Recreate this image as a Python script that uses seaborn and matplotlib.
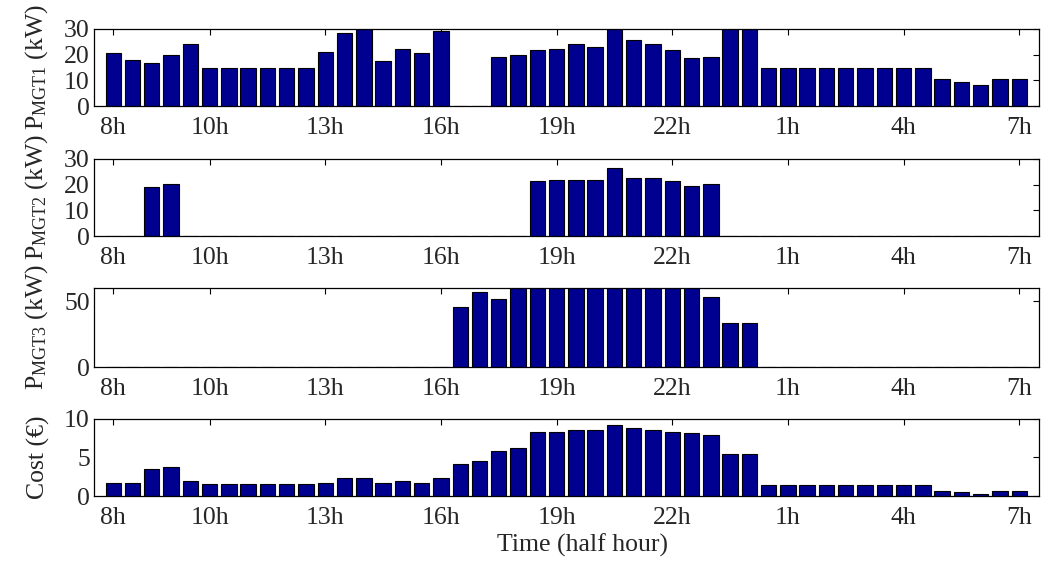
import numpy as np
import pandas as pd
import matplotlib
matplotlib.use("Agg")
import matplotlib.pyplot as plt
import seaborn as sns

# half-hour slots 1..48, starting at 8h
slots = np.arange(1, 49)

p_mgt1 = [20.5, 17.9, 16.7, 19.7, 24.3, 15, 15, 15, 15, 15, 15, 21.0,
          28.6, 30, 17.4, 22.3, 20.5, 29.2, 0, 0, 19.2, 19.8, 21.8, 22.3,
          24.3, 23.0, 30, 25.6, 24.3, 21.8, 18.6, 19.2, 30, 30, 15, 15,
          15, 15, 15, 15, 15, 15, 15, 10.4, 9.3, 8.0, 10.4, 10.4]

p_mgt2 = [0, 0, 18.9, 20.2, 0, 0, 0, 0, 0, 0, 0, 0,
          0, 0, 0, 0, 0, 0, 0, 0, 0, 0, 21.4, 22.0,
          22.0, 22.0, 26.4, 22.7, 22.7, 21.4, 19.5, 20.3, 0, 0, 0, 0,
          0, 0, 0, 0, 0, 0, 0, 0, 0, 0, 0, 0]

p_mgt3 = [0, 0, 0, 0, 0, 0, 0, 0, 0, 0, 0, 0,
          0, 0, 0, 0, 0, 0, 45.4, 56.6, 51.5, 60, 60, 60,
          60, 60, 60, 60, 60, 60, 60, 52.8, 33.4, 33.4, 0, 0,
          0, 0, 0, 0, 0, 0, 0, 0, 0, 0, 0, 0]

cost = [1.74, 1.74, 3.57, 3.78, 1.91, 1.52, 1.52, 1.52, 1.52, 1.52, 1.52, 1.74,
        2.35, 2.35, 1.74, 1.91, 1.74, 2.35, 4.22, 4.6, 5.87, 6.26, 8.35, 8.35,
        8.57, 8.57, 9.17, 8.78, 8.57, 8.35, 8.13, 7.96, 5.43, 5.43, 1.48, 1.48,
        1.48, 1.48, 1.48, 1.48, 1.48, 1.48, 1.48, 0.70, 0.48, 0.22, 0.70, 0.70]

tick_pos = [1, 6, 12, 18, 24, 30, 36, 42, 48]
tick_lab = ['8h', '10h', '13h', '16h', '19h', '22h', '1h', '4h', '7h']

series = [p_mgt1, p_mgt2, p_mgt3, cost]
ylabels = [r'P$_{\rm MGT1}$ (kW)', r'P$_{\rm MGT2}$ (kW)',
           r'P$_{\rm MGT3}$ (kW)', 'Cost (€)']
ylims = [(0, 30), (0, 30), (0, 60), (0, 10)]
yticks = [[0, 10, 20, 30], [0, 10, 20, 30], [0, 50], [0, 5, 10]]

sns.set_style('white')
plt.rcParams['font.family'] = ['Liberation Serif', 'DejaVu Serif']
plt.rcParams['mathtext.fontset'] = 'custom'
plt.rcParams['mathtext.rm'] = 'Liberation Serif'
plt.rcParams['mathtext.it'] = 'Liberation Serif:italic'

fs = 18.5
fig = plt.figure(figsize=(10.58, 5.63), dpi=100)
# axes boxes in figure fraction: [left, bottom, width, height]
boxes = [[0.0888, 0.8117, 0.8928, 0.1368],
         [0.0888, 0.5808, 0.8928, 0.1368],
         [0.0888, 0.3480, 0.8928, 0.1405],
         [0.0888, 0.1190, 0.8928, 0.1368]]

for vals, ylab, yl, yt, box in zip(series, ylabels, ylims, yticks, boxes):
    ax = fig.add_axes(box)
    df = pd.DataFrame({'slot': slots, 'val': vals})
    sns.barplot(data=df, x='slot', y='val', ax=ax, native_scale=True,
                color='#000090', saturation=1, edgecolor='black',
                linewidth=0.8, width=0.8)
    ax.set_xlim(0, 49)
    ax.set_ylim(*yl)
    ax.set_yticks(yt)
    ax.set_xticks(tick_pos)
    ax.set_xticklabels(tick_lab)
    ax.tick_params(direction='in', top=True, right=True, length=4,
                   width=0.8, labelsize=fs, color='black')
    ax.tick_params(axis='x', pad=8)
    ax.tick_params(axis='y', pad=3)
    ax.set_xlabel('')
    ax.set_ylabel(ylab, fontsize=fs, labelpad=10)
    for s in ax.spines.values():
        s.set_visible(True)
        s.set_color('black')
        s.set_linewidth(0.9)

ax.set_xlabel('Time (half hour)', fontsize=fs, labelpad=3, x=0.517)
fig.align_ylabels(fig.axes)

fig.savefig('out.png', dpi=100)
